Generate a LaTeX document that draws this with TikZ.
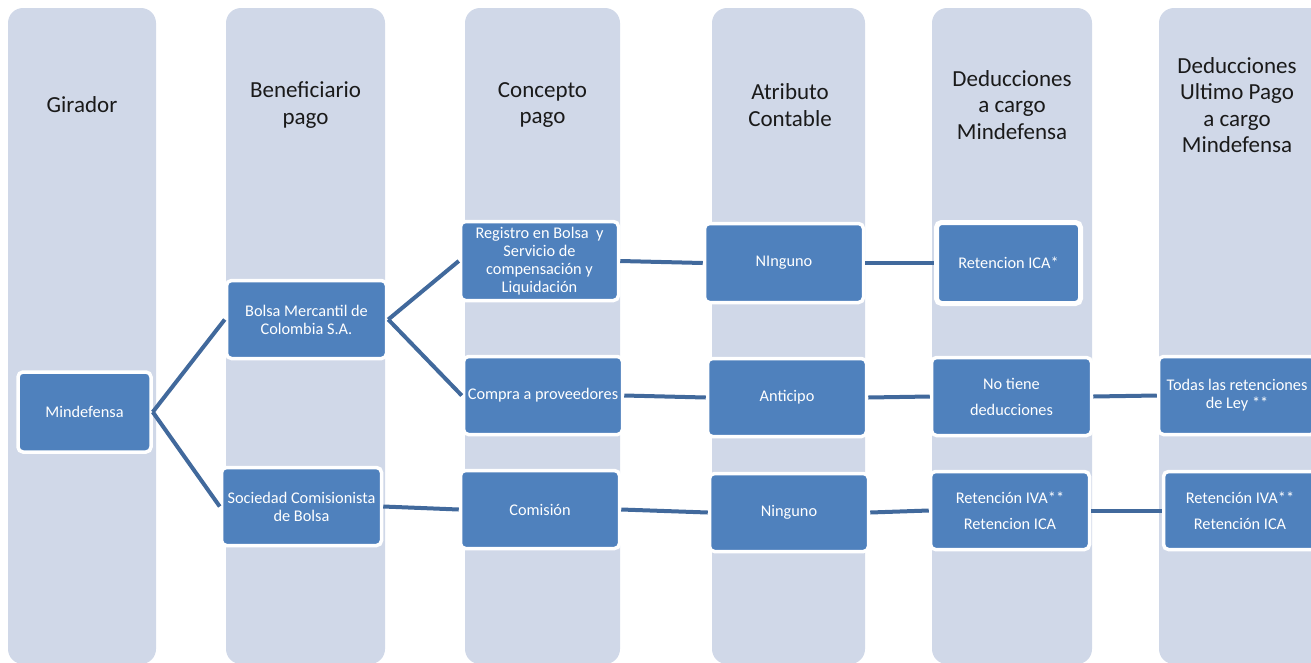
\documentclass[tikz,border=0pt]{standalone}
\usepackage{fontspec}
\setmainfont{Carlito}
\definecolor{colfill}{HTML}{D0D8E8}
\definecolor{boxblue}{HTML}{4F81BD}
\definecolor{linkblue}{HTML}{41699C}
\definecolor{headtxt}{HTML}{1A1A1A}
\tikzset{
  colbg/.style={fill=colfill, rounded corners=15pt},
  head/.style={text=headtxt, align=center, font=\fontsize{23}{26.5}\selectfont},
  box/.style={draw=white, line width=3.5pt, fill=boxblue, rounded corners=5pt, text=white,
    align=center, font=\fontsize{16.3}{18}\selectfont, inner sep=1pt},
  link/.style={draw=linkblue, line width=4pt},
}
\begin{document}
\begin{tikzpicture}[x=1pt,y=-1pt]
\useasboundingbox (0,0) rectangle (1311,662);
\clip (0,0) rectangle (1311,662);
% columns
\fill[colbg] (8,8) rectangle (156,664);
\fill[colbg] (226,8) rectangle (385,664);
\fill[colbg] (465,8) rectangle (620,664);
\fill[colbg] (712,8) rectangle (865,664);
\fill[colbg] (932,8) rectangle (1092,664);
\fill[colbg] (1159,8) rectangle (1340,664);
% headers
\node[head] (h1) at (82,105) {Girador};
\node[head] (h2) at (305.5,105) {Beneficiario\\pago};
\node[head] (h3) at (542.5,105) {Concepto\\pago};
\node[head] (h4) at (790,105) {Atributo\\Contable};
\node[head] (h5) at (1012,105) {Deducciones\\a cargo\\Mindefensa};
\node[head] (h6) at (1237,105) {Deducciones\\Ultimo Pago\\a cargo\\Mindefensa};
% boxes
\node[box, minimum width=133pt, minimum height=80pt] (min) at (84.5,412) {Mindefensa};
\node[box, minimum width=160pt, minimum height=78pt] (bolsa) at (306.5,319.5) {Bolsa Mercantil de\\Colombia S.A.};
\node[box, minimum width=160pt, minimum height=78pt] (soc) at (301.5,506.5) {Sociedad Comisionista\\de Bolsa};
\node[box, minimum width=158pt, minimum height=79pt] (reg) at (539.5,261) {Registro en Bolsa \ y\\Servicio de\\compensación y\\Liquidación};
\node[box, minimum width=159pt, minimum height=78pt] (compra) at (543,395.5) {Compra a proveedores};
\node[box, minimum width=159pt, minimum height=78pt] (comis) at (540,509.5) {Comisión};
\node[box, minimum width=159pt, minimum height=79pt] (ning1) at (784,263) {NInguno};
\node[box, minimum width=159pt, minimum height=78pt] (antic) at (787,397.5) {Anticipo};
\node[box, minimum width=159pt, minimum height=78pt] (ning2) at (789,512.5) {Ninguno};
\node[box, line width=5pt, minimum width=144pt, minimum height=81pt] (retica) at (1008.5,263) {Retencion ICA*};
\node[box, minimum width=160pt, minimum height=78pt] (notiene) at (1011.5,396.5) {No tiene\\[8pt]deducciones};
\node[box, minimum width=159pt, minimum height=78pt] (retiva) at (1010,510.5) {Retención IVA**\\[8pt]Retencion ICA};
\node[box, minimum width=157pt, minimum height=78pt] (todas) at (1237,395.5) {Todas las retenciones\\de Ley **};
\node[box, minimum width=153pt, minimum height=78pt] (retiva2) at (1240,510.5) {Retención IVA**\\[8pt]Retención ICA};
% connectors
\draw[link] (min.east) -- (bolsa.west);
\draw[link] (min.east) -- (soc.west);
\draw[link] (bolsa.east) -- (reg.west);
\draw[link] (bolsa.east) -- (compra.west);
\draw[link] (soc.east) -- (comis.west);
\draw[link] (reg.east) -- (ning1.west);
\draw[link] (compra.east) -- (antic.west);
\draw[link] (comis.east) -- (ning2.west);
\draw[link] (ning1.east) -- (retica.west);
\draw[link] (antic.east) -- (notiene.west);
\draw[link] (ning2.east) -- (retiva.west);
\draw[link] (notiene.east) -- (todas.west);
\draw[link] (retiva.east) -- (retiva2.west);
\end{tikzpicture}
\end{document}
